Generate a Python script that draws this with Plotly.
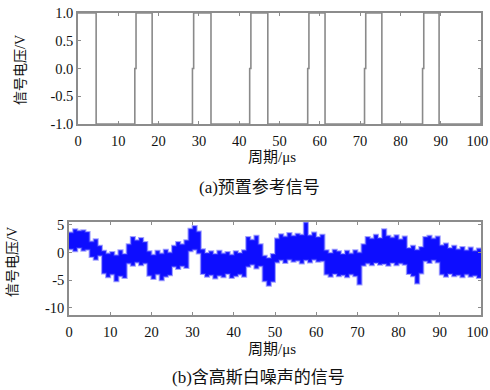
import plotly.graph_objects as go

# ---- data ----
# (a) reference signal: time points (µs) and levels (V), drawn as a step line
ref_t = [0, 4.5, 14.1, 14.4, 18.4, 28.4, 28.7, 33.0, 42.6, 42.9, 47.1, 57.0, 57.3,
         61.3, 71.1, 71.4, 75.4, 85.5, 85.8, 89.6, 100]
ref_v = [1, -1, 0, 1, -1, 0, 1, -1, 0, 1, -1, 0, 1, -1, 0, 1, -1, 0, 1, -1, 0]

# (b) noisy signal: upper and lower envelope of the noise band, one value per µs
noise_t = list(range(0, 101))
noise_hi = [3.6, 4.2, 3.9, 4.0, 3.7, 2.0, 2.4, 1.2, 0.3, -0.2,
            0.1, -0.5, 0.4, -0.3, 1.5, 2.8, 2.2, 2.6, 1.9, 0.2,
            -0.4, 0.3, -0.2, 0.5, 0.0, 1.2, 1.9, 1.5, 2.2, 4.3,
            4.8, 3.8, 0.6, -0.1, 0.2, -0.3, 0.3, -0.2, 0.1, -0.4,
            0.2, -0.1, 0.4, 2.8, 2.3, 3.0, 1.5, -0.6, -1.0, -0.3,
            2.5, 3.3, 2.9, 3.5, 3.0, 3.4, 3.2, 5.4, 3.1, 3.6,
            2.8, 3.2, 0.4, -0.1, 0.5, 0.2, -0.3, 0.3, -0.2, 0.4,
            0.0, 1.5, 2.8, 2.5, 3.2, 2.6, 4.2, 3.0, 2.7, 3.1,
            2.4, 2.9, 0.8, 1.2, 0.5, 1.0, 2.8, 3.0, 2.5, 2.9,
            1.3, 1.6, 0.8, 1.2, 0.6, 1.0, 0.4, 0.9, 0.3, 0.7, 0.2]
noise_lo = [0.6, 0.2, 0.8, 0.3, 0.5, -0.8, -1.3, -0.6, -3.8, -4.5,
            -4.0, -5.2, -4.3, -4.6, -2.0, -2.4, -1.8, -2.3, -2.0, -4.2,
            -4.8, -4.0, -5.0, -4.4, -4.1, -2.6, -3.0, -2.5, -2.8, 0.2,
            0.5, -0.2, -3.9, -4.4, -4.1, -4.7, -4.2, -4.5, -3.9, -4.6,
            -4.3, -4.0, -4.4, -2.6, -2.2, -2.9, -2.5, -5.2, -6.0, -5.3,
            -1.8, -1.4, -1.9, -1.3, -1.7, -1.5, -2.0, -1.4, -1.8, -1.3,
            -1.7, -1.6, -4.0, -4.4, -3.9, -4.3, -4.1, -4.5, -4.0, -4.3,
            -5.8, -2.4, -2.0, -2.3, -1.9, -2.2, -2.1, -2.4, -1.9, -2.3,
            -2.0, -2.2, -3.9, -4.3, -5.6, -3.8, -1.6, -1.9, -1.4, -1.8,
            -4.0, -4.4, -3.9, -4.3, -4.1, -4.5, -4.0, -4.4, -4.2, -4.6, -4.3]

x_ticks = [0, 10, 20, 30, 40, 50, 60, 70, 80, 90, 100]
x_labels = ["0", "10", "20", "30", "40", "50", "60", "70", "80", "90", "100\u2002"]
ya_ticks = [1.0, 0.5, 0.0, -0.5, -1.0]
ya_labels = ["1.0", "0.5", "0.0", "-0.5", "-1.0"]
yb_ticks = [5, 0, -5, -10]
yb_labels = ["5", "0", "-5", "-10"]

SERIF = "Liberation Serif"
FONT = "Liberation Serif, Noto Sans CJK SC"
FRAME = "#8c8c8c"

fig = go.Figure()

fig.add_trace(go.Scatter(x=ref_t, y=ref_v, mode="lines", line_shape="hv",
                         line=dict(color="#8a8a8a", width=1.6),
                         xaxis="x", yaxis="y", showlegend=False, hoverinfo="skip"))

fig.add_trace(go.Scatter(x=noise_t, y=noise_lo, mode="lines", line_shape="hv",
                         line=dict(color="rgba(70,70,255,0.5)", width=2),
                         xaxis="x2", yaxis="y2", showlegend=False, hoverinfo="skip"))
fig.add_trace(go.Scatter(x=noise_t, y=noise_hi, mode="lines", line_shape="hv",
                         fill="tonexty", fillcolor="rgba(0,0,255,0.95)",
                         line=dict(color="rgba(70,70,255,0.5)", width=2),
                         xaxis="x2", yaxis="y2", showlegend=False, hoverinfo="skip"))

axis_common = dict(showgrid=False, zeroline=False, showline=True, linecolor=FRAME,
                   linewidth=1.5, mirror="allticks", ticks="inside", ticklen=3,
                   tickcolor=FRAME, automargin=False, ticklabeloverflow="allow",
                   tickfont=dict(family=SERIF, size=14.5, color="#111"))

fig.update_layout(
    width=490, height=390,
    margin=dict(l=0, r=0, t=0, b=0),
    paper_bgcolor="white", plot_bgcolor="white",
    font=dict(family=SERIF),
    xaxis=dict(domain=[78/490, 481/490], range=[0, 100], tickvals=x_ticks,
               ticktext=x_labels, anchor="y", ticklabelstandoff=3, **axis_common),
    yaxis=dict(domain=[1-124/390, 1-13/390], range=[-1, 1], tickvals=ya_ticks,
               ticktext=ya_labels, anchor="x", **axis_common),
    xaxis2=dict(domain=[69/490, 481/490], range=[0, 100], tickvals=x_ticks,
                ticktext=x_labels, anchor="y2", ticklabelstandoff=3, **axis_common),
    yaxis2=dict(domain=[1-315/390, 1-222/390], range=[-11.3, 5.5], tickvals=yb_ticks,
                ticktext=yb_labels, anchor="x2", **axis_common),
)

def ann(text, x, y, size, angle=0):
    fig.add_annotation(text=text, x=x/490, y=1-y/390, xref="paper", yref="paper",
                       showarrow=False, textangle=angle, xanchor="center", yanchor="middle",
                       font=dict(family=FONT, size=size, color="#111"))

ann("信号电压/V", 20, 70, 14, angle=-90)
ann("信号电压/V", 12, 262, 14, angle=-90)
ann("周期/μs", 272, 157, 15)
ann("周期/μs", 272, 349, 15)
ann("(a)预置参考信号", 259, 187, 17)
ann("(b)含高斯白噪声的信号", 258, 377, 17)

fig.write_html("out.html", config={"displayModeBar": False},
               post_script="document.body.style.margin='0';document.body.style.overflow='hidden';")
